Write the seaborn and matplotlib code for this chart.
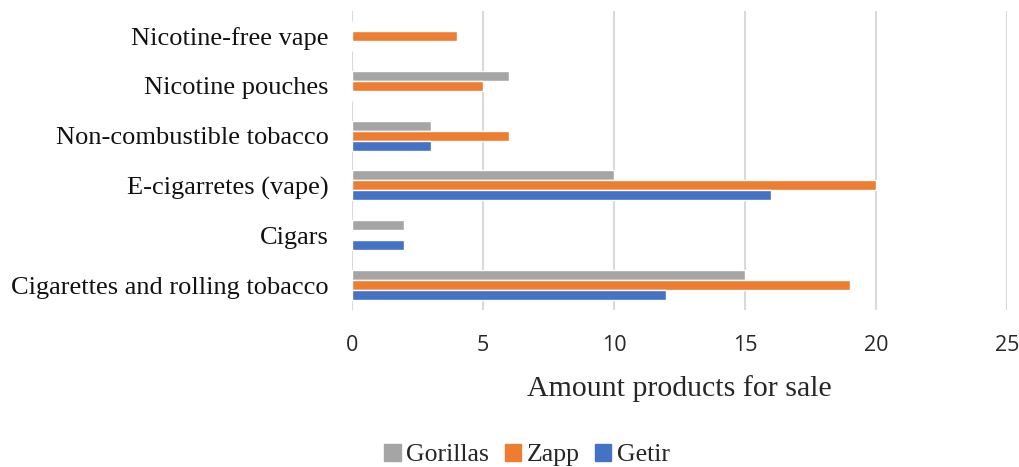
import pandas as pd
import matplotlib.pyplot as plt
import seaborn as sns

categories = ["Nicotine-free vape", "Nicotine pouches", "Non-combustible tobacco",
              "E-cigarretes (vape)", "Cigars", "Cigarettes and rolling tobacco"]
gorillas = [0, 6, 3, 10, 2, 15]
zapp = [4, 5, 6, 20, 0, 19]
getir = [0, 0, 3, 16, 2, 12]
stores = ["Gorillas", "Zapp", "Getir"]
colors = ["#A5A5A5", "#ED7D31", "#4472C4"]
x_ticks = [0, 5, 10, 15, 20, 25]

rows = []
for store, vals in zip(stores, [gorillas, zapp, getir]):
    for cat, v in zip(categories, vals):
        rows.append({"category": cat, "store": store, "amount": v})
df = pd.DataFrame(rows)

sns.set_theme(style="white")
serif = ["Liberation Serif", "DejaVu Serif"]

fig = plt.figure(figsize=(10.19, 4.67), dpi=100)
ax = fig.add_axes([352 / 1019, 1 - 310 / 467, (1007 - 352) / 1019, 299 / 467])

sns.barplot(data=df, x="amount", y="category", hue="store", order=categories,
            hue_order=stores, palette=colors, width=0.6, orient="h",
            saturation=1, ax=ax, legend=False)

ax.set_xlim(0, 25)
ax.set_ylim(5.5, -0.5)
ax.set_xticks(x_ticks)
ax.xaxis.grid(True, color="#D9D9D9", linewidth=1.5)
ax.set_axisbelow(True)
for s in ax.spines.values():
    s.set_visible(False)
ax.tick_params(axis="both", length=0)
ax.tick_params(axis="x", pad=18)
for lab in ax.get_xticklabels():
    lab.set_fontfamily(["Open Sans", "DejaVu Sans"])
    lab.set_fontsize(15.5)
for lab in ax.get_yticklabels():
    lab.set_fontfamily(serif)
    lab.set_fontsize(19)
    lab.set_color("#111111")
ax.tick_params(axis="y", pad=17)
ax.set_ylabel("")
ax.set_xlabel("Amount products for sale", fontsize=21.5, family=serif, labelpad=14)

handles = [plt.Rectangle((0, 0), 1, 1, color=c) for c in colors]
fig.legend(handles, stores, loc="center", bbox_to_anchor=(527 / 1019, 1 - 455 / 467),
           ncol=3, frameon=False, prop={"family": serif, "size": 18.5},
           handlelength=0.65, handleheight=0.65, handletextpad=0.2, columnspacing=0.6)

fig.savefig("out.png", dpi=100)
